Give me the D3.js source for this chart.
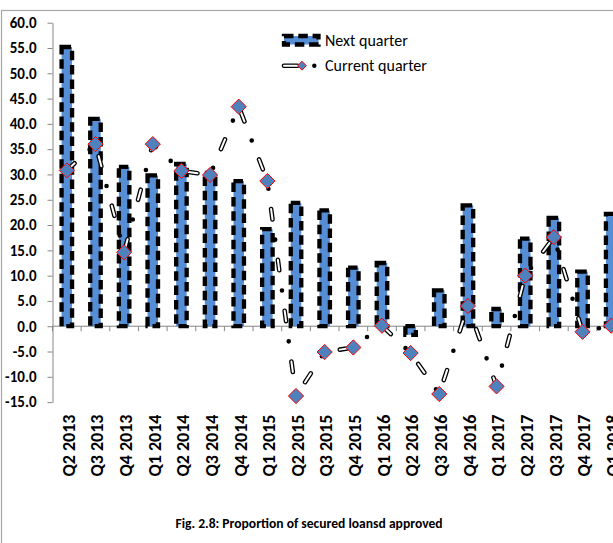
<!DOCTYPE html>
<html><head><meta charset="utf-8">
<script src="https://cdn.jsdelivr.net/npm/d3@7"></script>
<style>body{margin:0;background:#fff} svg{display:block}</style>
</head><body><svg id="c" width="613" height="543"></svg>
<script>
const quarters = ["Q2 2013","Q3 2013","Q4 2013","Q1 2014","Q2 2014","Q3 2014","Q4 2014","Q1 2015","Q2 2015","Q3 2015","Q4 2015","Q1 2016","Q2 2016","Q3 2016","Q4 2016","Q1 2017","Q2 2017","Q3 2017","Q4 2017","Q1 2018"];
const nextQuarter = [55.2,41.0,31.5,29.8,32.1,30.3,28.7,19.2,24.4,22.9,11.6,12.5,-1.7,7.1,23.9,3.4,17.3,21.4,10.8,22.2];
const currentQuarter = [30.8,36.0,14.6,36.0,30.7,29.9,43.4,28.7,-13.8,-5.1,-4.2,0.1,-5.3,-13.4,4.0,-11.9,10.0,17.6,-1.1,0.1];
const yTicks = [-15,-10,-5,0,5,10,15,20,25,30,35,40,45,50,55,60];
const seriesNames = ["Next quarter","Current quarter"];
const chartTitle = "Fig. 2.8: Proportion of secured loansd approved";

const svg = d3.select("#c");
const FONT = "Carlito, Lato, 'Open Sans', sans-serif";

// chart frame (clipped on right and bottom like the reference)
svg.append("rect").attr("x",1.5).attr("y",10.5).attr("width",900).attr("height",900)
  .attr("fill","#fff").attr("stroke","#a6a6a6").attr("stroke-width",1.2);

const x = d3.scaleBand().domain(quarters).range([52.5, 52.5 + 28.65*quarters.length]).padding(0);
const y = d3.scaleLinear().domain([-15,60]).range([402.1,22.7]);
const cx = q => x(q) + x.bandwidth()/2;

// Y axis
const yAxis = svg.append("g").attr("transform","translate(52.5,0)")
  .call(d3.axisLeft(y).tickValues(yTicks).tickSize(5).tickSizeOuter(0).tickPadding(11)
        .tickFormat(d => d.toFixed(1)));
yAxis.select(".domain").attr("stroke","#868686");
yAxis.selectAll(".tick line").attr("stroke","#868686");
yAxis.selectAll("text").attr("font-family",FONT).attr("font-weight","bold")
  .attr("font-size","15px").attr("fill","#000");

// X axis at zero
const xg = svg.append("g");
xg.append("line").attr("x1",x.range()[0]).attr("x2",x.range()[1])
  .attr("y1",y(0)).attr("y2",y(0)).attr("stroke","#868686");
xg.selectAll("line.tk").data(quarters.concat(["__end"])).join("line").attr("class","tk")
  .attr("x1",d => d==="__end" ? x.range()[1] : x(d)).attr("x2",d => d==="__end" ? x.range()[1] : x(d))
  .attr("y1",y(0)).attr("y2",y(0)+5).attr("stroke","#868686");

// X labels
svg.append("g").selectAll("text").data(quarters).join("text")
  .attr("transform",d => `translate(${cx(d)+1.3},414.5) rotate(-90)`)
  .attr("dy","0.36em").attr("text-anchor","end")
  .attr("font-family",FONT).attr("font-weight","bold").attr("font-size","18px").attr("fill","#000")
  .text(d => d);

// Bars
const barW = 10.5;
const barStyle = s => s.attr("fill","#558ED5").attr("stroke","#000").attr("stroke-width",4.3)
  .attr("stroke-dasharray","9.5 4.8");
svg.append("g").selectAll("rect").data(quarters.map((q,i)=>({q,v:nextQuarter[i]}))).join("rect")
  .attr("x",d => cx(d.q)-barW/2).attr("width",barW)
  .attr("y",d => y(Math.max(0,d.v))).attr("height",d => Math.abs(y(d.v)-y(0)))
  .call(barStyle);

// Line (long dash - dot, hollow dashes)
const pts = quarters.map((q,i)=>({q,v:currentQuarter[i]}));
const line = d3.line().x(d => cx(d.q)).y(d => y(d.v));
svg.append("path").datum(pts).attr("d",line).attr("fill","none").attr("stroke","#000")
  .attr("stroke-width",4.6).attr("stroke-linecap","round").attr("stroke-linejoin","round")
  .attr("stroke-dasharray","10.5 20.4 0 20.4");
svg.append("path").datum(pts).attr("d",line).attr("fill","none").attr("stroke","#fff")
  .attr("stroke-width",2).attr("stroke-linecap","round").attr("stroke-linejoin","round")
  .attr("stroke-dasharray","10.5 40.8");

// Diamond markers
const diamond = r => `M0,${-r}L${r},0L0,${r}L${-r},0Z`;
svg.append("g").selectAll("path").data(pts).join("path")
  .attr("transform",d => `translate(${cx(d.q)},${y(d.v)})`)
  .attr("d",diamond(7.6)).attr("fill","#4F81BD").attr("stroke","#FF0000").attr("stroke-width",1);

// Legend
const lg = svg.append("g");
lg.append("rect").attr("x",284).attr("y",36).attr("width",34.5).attr("height",8.5).call(barStyle);
lg.append("text").attr("x",325).attr("y",46).text(seriesNames[0]);
lg.append("line").attr("x1",284).attr("x2",297.5).attr("y1",65.7).attr("y2",65.7)
  .attr("stroke","#000").attr("stroke-width",4.6).attr("stroke-linecap","round");
lg.append("line").attr("x1",284).attr("x2",297.5).attr("y1",65.7).attr("y2",65.7)
  .attr("stroke","#fff").attr("stroke-width",2).attr("stroke-linecap","round");
lg.append("circle").attr("cx",314.3).attr("cy",65.7).attr("r",2.2).attr("fill","#000");
lg.append("path").attr("transform","translate(302,65.7)").attr("d",diamond(4.4))
  .attr("fill","#4F81BD").attr("stroke","#FF0000").attr("stroke-width",1);
lg.append("text").attr("x",325).attr("y",71).text(seriesNames[1]);
lg.selectAll("text").attr("font-family",FONT).attr("font-size","16px").attr("fill","#000");

// Title
svg.append("text").attr("x",309).attr("y",528).attr("text-anchor","middle")
  .attr("font-family",FONT).attr("font-weight","bold").attr("font-size","13.6px").attr("fill","#000")
  .text(chartTitle);
</script>
</body></html>
